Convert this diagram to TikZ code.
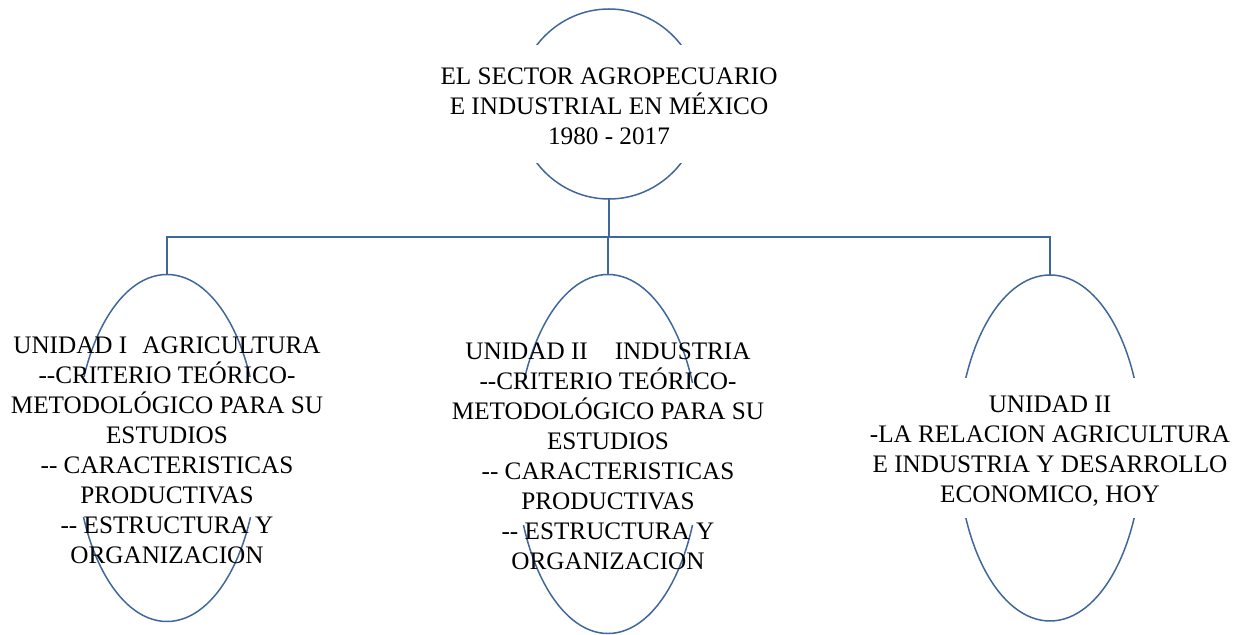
\documentclass[tikz,border=0pt]{standalone}
\usepackage{fontspec}
\setmainfont{Liberation Serif}
\usetikzlibrary{shapes.geometric}
\definecolor{lineblue}{RGB}{63,103,156}
\tikzset{
  oval/.style={draw=lineblue,line width=0.75pt,ellipse,inner sep=0pt,outer sep=0pt},
  link/.style={draw=lineblue,line width=0.75pt},
  ovaltext/.style={align=center,inner sep=0pt,font=\fontsize{12.6}{15}\selectfont}
}
\begin{document}
\begin{tikzpicture}[x=0.5pt,y=-0.5pt]
    \useasboundingbox (0,0) rectangle (1243,635);
    % Ovals
    \node[oval,minimum width=92pt,minimum height=95pt] (top) at (609,104) {};
    \node[oval,minimum width=91pt,minimum height=173.5pt] (u1) at (167,448) {};
    \node[oval,minimum width=92pt,minimum height=179.5pt] (u2) at (608,454) {};
    \node[oval,minimum width=92pt,minimum height=173pt] (u3) at (1050,448) {};
    % Blank middles
    \fill[white] (511,45) rectangle (707,163);
    \fill[white] (69,377) rectangle (265,517);
    \fill[white] (510,383) rectangle (706,525);
    \fill[white] (952,378) rectangle (1148,518);
    % Links
    \coordinate (bar) at (609,237);
    \draw[link] (top.south) -- (bar);
    \draw[link] (u1.north) -- (u1.north |- bar) -- (u3.north |- bar) -- (u3.north);
    \draw[link] (u2.north) -- (u2.north |- bar);
    % Texts
    \node[ovaltext] (toptext) at (609,106) {EL SECTOR AGROPECUARIO\\E INDUSTRIAL EN MÉXICO\\1980 - 2017};
    \node[ovaltext] (u1text) at (167,450) {UNIDAD I\hspace{7.5pt}AGRICULTURA\\-{}-CRITERIO TEÓRICO-\\METODOLÓGICO PARA SU\\ESTUDIOS\\-{}- CARACTERISTICAS\\PRODUCTIVAS\\-{}- ESTRUCTURA Y\\ORGANIZACION};
    \node[ovaltext] (u2text) at (608,456) {UNIDAD II\hspace{13.5pt}INDUSTRIA\\-{}-CRITERIO TEÓRICO-\\METODOLÓGICO PARA SU\\ESTUDIOS\\-{}- CARACTERISTICAS\\PRODUCTIVAS\\-{}- ESTRUCTURA Y\\ORGANIZACION};
    \node[ovaltext] (u3text) at (1050,451) {UNIDAD II\\-LA RELACION AGRICULTURA\\E INDUSTRIA Y DESARROLLO\\ECONOMICO, HOY};
\end{tikzpicture}
\end{document}
